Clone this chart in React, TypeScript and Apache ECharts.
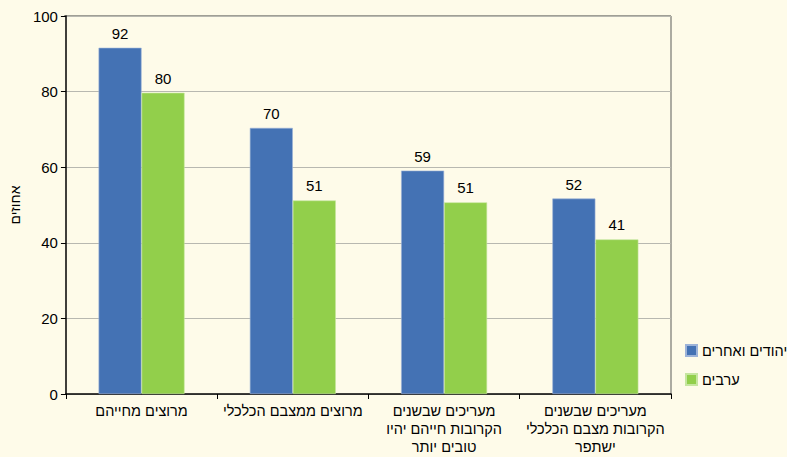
import React, { useEffect, useRef } from "react";
import * as echarts from "echarts";

const categories = [
  "מרוצים מחייהם",
  "מרוצים ממצבם הכלכלי",
  "מעריכים שבשנים\nהקרובות חייהם יהיו\nטובים יותר",
  "מעריכים שבשנים\nהקרובות מצבם הכלכלי\nישתפר",
];
const seriesNames = ["יהודים ואחרים", "ערבים"];
const jewsValues = [91.6, 70.4, 59.1, 51.7];
const arabsValues = [79.7, 51.2, 50.7, 40.9];
const yTicks = { min: 0, max: 100, interval: 20 };
const yAxisName = "אחוזים";

const FONT = "Liberation Sans, Arial, sans-serif";

export default function App() {
  const ref = useRef<HTMLDivElement>(null);
  useEffect(() => {
    if (!ref.current) return;
    const chart = echarts.init(ref.current, null, { renderer: "svg" });
    const label = {
      show: true,
      position: "top",
      distance: 7,
      color: "#000",
      fontSize: 15,
      fontFamily: FONT,
      formatter: (p: any) => String(Math.round(p.value)),
    };
    chart.setOption({
      animation: false,
      backgroundColor: "#FEFBE9",
      textStyle: { fontFamily: FONT },
      legend: {
        orient: "vertical",
        left: 680,
        top: 338,
        itemWidth: 11,
        itemHeight: 11,
        itemGap: 14,
        icon: "rect",
        textStyle: { fontSize: 14.5, color: "#000", fontFamily: FONT },
        data: seriesNames,
      },
      grid: { left: 64, right: 116, top: 16, bottom: 63, containLabel: false },
      xAxis: {
        type: "category",
        data: categories,
        axisLine: { lineStyle: { color: "#000", width: 1.5 } },
        axisTick: { show: true, alignWithLabel: false, length: 5, lineStyle: { color: "#000" } },
        axisLabel: {
          color: "#000",
          fontSize: 14.5,
          fontFamily: FONT,
          lineHeight: 18,
          margin: 8,
          interval: 0,
        },
      },
      yAxis: {
        type: "value",
        min: yTicks.min,
        max: yTicks.max,
        interval: yTicks.interval,
        name: yAxisName,
        nameLocation: "middle",
        nameRotate: 90,
        nameGap: 43,
        nameTextStyle: { color: "#000", fontSize: 14, fontFamily: FONT },
        axisLine: { show: true, lineStyle: { color: "#000", width: 1.5 } },
        axisTick: { show: true, length: 5, lineStyle: { color: "#000" } },
        axisLabel: { color: "#000", fontSize: 15, fontFamily: FONT, margin: 8 },
        splitLine: { show: true, lineStyle: { color: "#B8B8B0", width: 1 } },
      },
      graphic: [
        {
          type: "line",
          shape: { x1: 671, y1: 16, x2: 671, y2: 394 },
          style: { stroke: "#909088", lineWidth: 1.5 },
        },
        {
          type: "line",
          shape: { x1: 64, y1: 16, x2: 671, y2: 16 },
          style: { stroke: "#808078", lineWidth: 1.5 },
        },
      ],
      series: [
        {
          name: seriesNames[0],
          type: "bar",
          data: jewsValues,
          barWidth: 43,
          barGap: "0%",
          itemStyle: { color: "#4472B4", borderColor: "#9DB3D8", borderWidth: 0.6 },
          label,
        },
        {
          name: seriesNames[1],
          type: "bar",
          data: arabsValues,
          barWidth: 43,
          barGap: "0%",
          itemStyle: { color: "#92CF4B", borderColor: "#C6E6A0", borderWidth: 0.6 },
          label,
        },
      ],
    });
    return () => chart.dispose();
  }, []);
  return <div ref={ref} style={{ width: 787, height: 457, position: "absolute", left: 0, top: 0 }} />;
}
